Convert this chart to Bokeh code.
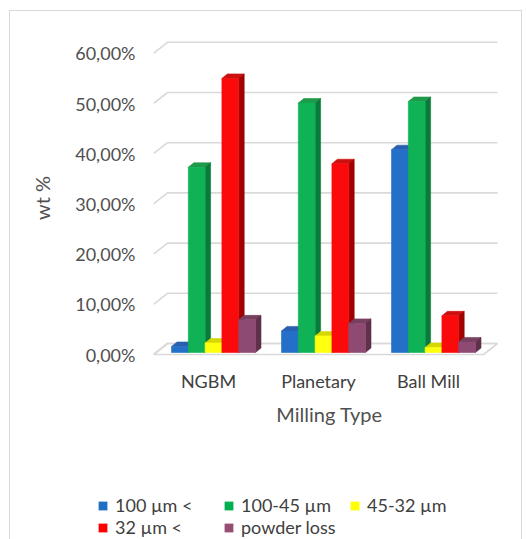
from bokeh.plotting import figure
from bokeh.models import (ColumnDataSource, LinearAxis, FixedTicker, Legend, LegendItem, Range1d,
                          InlineStyleSheet)
from bokeh.layouts import column
from bokeh.embed import file_html
from bokeh.resources import INLINE

# ---------------- data ----------------
categories = ["NGBM", "Planetary", "Ball Mill"]
series_names = ["100 µm <", "100-45 µm", "45-32 µm", "32 µm <", "powder loss"]
s_100 = [1.2, 4.3, 40.4]
s_100_45 = [36.9, 49.7, 50.0]
s_45_32 = [1.9, 3.3, 1.0]
s_32 = [54.6, 37.6, 7.3]
s_loss = [6.5, 5.8, 2.1]
y_ticks = [0, 10, 20, 30, 40, 50, 60]
y_tick_labels = ["0,00%", "10,00%", "20,00%", "30,00%", "40,00%", "50,00%", "60,00%"]

series_values = [s_100, s_100_45, s_45_32, s_32, s_loss]
front_colors = ["#2470c8", "#0fb356", "#ffff10", "#fa0a0a", "#8e4a72"]
side_colors = ["#1a4a8a", "#0a7a3a", "#b0b000", "#a00000", "#5e3049"]
top_colors = ["#2a5fae", "#1e9a4a", "#d6d600", "#cc1010", "#77405f"]
legend_colors = ["#1f6fc5", "#00b050", "#ffff00", "#ff0000", "#954f72"]

# ---------------- geometry (pixel scale -> data units) ----------------
PX_X = 110.0   # px per category unit
PX_Y = 5.02    # px per percent
WDX, WDY = 14 / PX_X, 11 / PX_Y      # back-wall depth
BDX, BDY = 5.5 / PX_X, 4.5 / PX_Y    # bar depth
BASE = 2 / PX_Y                      # bars sit slightly behind the floor edge
G0 = 18 / PX_X                       # group start inside category
BW = 16.8 / PX_X                     # bar width
N_CAT = len(categories)

FONT = "Lato"
GRID = "#d9d9d9"
TXT = "#505050"

p = figure(width=526, height=495, output_backend="svg", toolbar_location=None,
           x_range=Range1d(0, 352 / PX_X), y_range=Range1d(-6 / PX_Y, 319 / PX_Y),
           min_border_left=153, min_border_right=21, min_border_top=35, min_border_bottom=135,
           x_axis_type=None, y_axis_type=None)
p.frame_align = False
p.grid.visible = False
p.outline_line_color = None
p.background_fill_color = "white"
p.border_fill_color = "white"

# floor
p.patch([0, N_CAT, N_CAT + WDX, WDX], [0, 0, WDY, WDY], fill_color="white",
        line_color=GRID, line_width=1.6)

# gridlines on back wall + left wall diagonals
gx, gy = [], []
for v in y_ticks:
    gx.append([0, WDX, N_CAT + WDX])
    gy.append([v, v + WDY, v + WDY])
p.multi_line(gx, gy, line_color=GRID, line_width=1.6)

# 3D bars
xs, ys, fills = [], [], []
for c in range(N_CAT):
    for i, vals in enumerate(series_values):
        v = vals[c]
        l = c + G0 + i * BW
        r = l + BW
        b = BASE
        t = BASE + v
        xs.append([l, r, r + BDX, l + BDX]); ys.append([t, t, t + BDY, t + BDY]); fills.append(top_colors[i])
        xs.append([r, r + BDX, r + BDX, r]); ys.append([b, b + BDY, t + BDY, t]); fills.append(side_colors[i])
        xs.append([l, r, r, l]); ys.append([b, b, t, t]); fills.append(front_colors[i])
src = ColumnDataSource(dict(xs=xs, ys=ys, fill=fills))
p.patches("xs", "ys", source=src, fill_color="fill", line_color="fill", line_width=0.6)

# axes
yaxis = LinearAxis(ticker=FixedTicker(ticks=y_ticks),
                   major_label_overrides={t: lab for t, lab in zip(y_ticks, y_tick_labels)})
yaxis.axis_line_color = None
yaxis.major_tick_line_color = None
yaxis.minor_tick_line_color = None
yaxis.major_tick_out = 0
yaxis.major_tick_in = 0
yaxis.minor_tick_out = 0
yaxis.major_label_standoff = 18
yaxis.major_label_text_font = FONT
yaxis.major_label_text_font_size = "18px"
yaxis.major_label_text_color = TXT
yaxis.axis_label = "wt %"
yaxis.axis_label_text_font = FONT
yaxis.axis_label_text_font_size = "20px"
yaxis.axis_label_text_font_style = "normal"
yaxis.axis_label_text_color = TXT
yaxis.axis_label_standoff = 18
p.add_layout(yaxis, "left")

xaxis = LinearAxis(ticker=FixedTicker(ticks=[c + 0.5 for c in range(N_CAT)]),
                   major_label_overrides={c + 0.5: name for c, name in enumerate(categories)})
xaxis.axis_line_color = None
xaxis.major_tick_line_color = None
xaxis.minor_tick_line_color = None
xaxis.major_tick_out = 0
xaxis.major_tick_in = 0
xaxis.minor_tick_out = 0
xaxis.major_label_standoff = 9
xaxis.major_label_text_font = FONT
xaxis.major_label_text_font_size = "18px"
xaxis.major_label_text_color = "#404040"
xaxis.axis_label = "Milling Type"
xaxis.axis_label_text_font = FONT
xaxis.axis_label_text_font_size = "20px"
xaxis.axis_label_text_font_style = "normal"
xaxis.axis_label_text_color = TXT
xaxis.axis_label_standoff = 7
p.add_layout(xaxis, "below")

# legend (separate strip under the chart)
pl = figure(width=526, height=44, output_backend="svg", toolbar_location=None,
            x_range=Range1d(0, 1), y_range=Range1d(0, 1),
            min_border_left=0, min_border_right=0, min_border_top=0, min_border_bottom=0,
            x_axis_type=None, y_axis_type=None)
pl.frame_align = False
pl.grid.visible = False
pl.outline_line_color = None
pl.border_fill_color = "white"
n_leg = len(legend_colors)
lsrc = ColumnDataSource(dict(l=[0] * n_leg, r=[0] * n_leg, t=[0] * n_leg, b=[0] * n_leg,
                             c=legend_colors))
lr = pl.quad(left="l", right="r", top="t", bottom="b", source=lsrc,
             fill_color="c", line_color=None)
items = [LegendItem(label=name, renderers=[lr], index=i) for i, name in enumerate(series_names)]
legend = Legend(items=items, location=(97, 1), orientation="horizontal", ncols=3,
                glyph_width=11, glyph_height=11, label_standoff=7, label_width=108,
                label_height=20, spacing=0, padding=0, margin=0,
                label_text_font=FONT, label_text_font_size="18px", label_text_color="#404040",
                background_fill_alpha=0, border_line_color=None)
pl.add_layout(legend, "center")

frame_css = InlineStyleSheet(css="""
:host { position: relative; }
:host::before {
  content: ""; position: absolute; left: 9px; top: 10px; right: 4px; bottom: 0px;
  border-left: 1px solid #d9d9d9; border-top: 1px solid #d9d9d9; border-right: 1px solid #d9d9d9;
  pointer-events: none; z-index: 5;
}
""")
layout = column(p, pl, spacing=0, stylesheets=[frame_css])
open("out.html", "w").write(file_html(layout, INLINE))
